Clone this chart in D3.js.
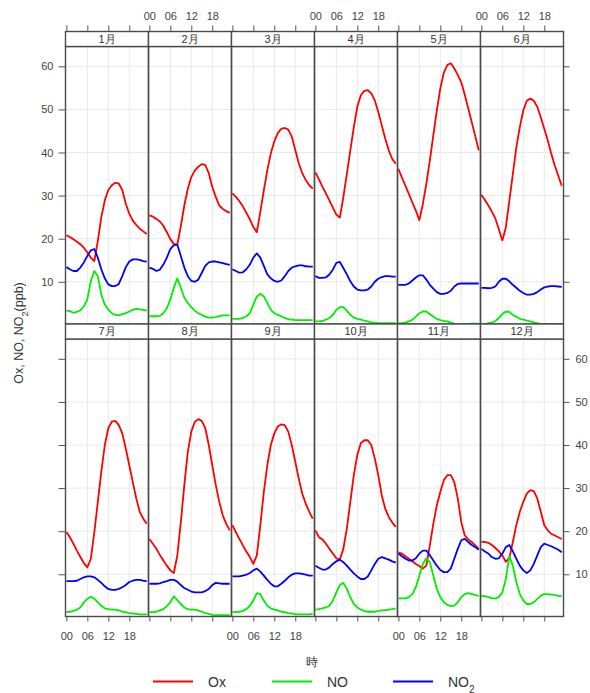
<!DOCTYPE html>
<html lang="ja">
<head>
<meta charset="UTF-8">
<title>Ox, NO, NO2 月別時刻変化</title>
<script src="https://d3js.org/d3.v7.min.js"></script>
<style>
    body { margin: 0; background: #fff; }
    text { font-family: "Liberation Sans", Arial, sans-serif; fill: #333; }
    .axis path { display: none; }
    .axis line { stroke: #555; }
    .axis text { font-size: 11px; fill: #444; }
    .grid line { stroke: #e9e9e9; stroke-width: 1; }
</style>
</head>
<body>
<svg width="590" height="693"></svg>
<script>
const months = ["1月", "2月", "3月", "4月", "5月", "6月", "7月", "8月", "9月", "10月", "11月", "12月"];
const hours = d3.range(24);
const hourTicks = [0, 6, 12, 18];
const hourLabels = ["00", "06", "12", "18"];
const yTicks = [10, 20, 30, 40, 50, 60];

// Ox (ppb), one row per month, hours 0-23
const ox = [
    [20.8,20.4,19.9,19.3,18.7,17.9,16.8,15.6,14.8,19.5,25,28.9,31.3,32.4,33,32.8,31.3,28.1,25.8,24.2,23.2,22.3,21.7,21.1],
    [25.4,25.1,24.6,24,23,21.5,19.9,18.8,18.6,22.9,27.7,31.6,34.3,35.8,36.7,37.3,37.1,35.2,32,29.7,27.7,26.9,26.4,26],
    [30.5,29.7,28.7,27.5,26,24.5,22.7,21.5,26.2,31.2,35.9,39.8,42.6,44.5,45.5,45.7,45.3,43.7,40.6,37.5,35.2,33.6,32.4,31.6],
    [35.4,33.8,32.1,30.5,28.9,27.2,25.6,24.9,29.6,35,40.5,45.9,50.6,53.3,54.3,54.5,53.7,52.1,49.4,46.3,43.2,40.5,38.5,37.4],
    [36.2,34.2,32.3,30.4,28.4,26.5,24.3,28,32.7,38.1,44,49.8,54.9,58.5,60.3,60.7,59.5,58,56.3,53.4,50.2,47,43.8,40.5],
    [30.2,29,27.7,26.3,24.7,22.2,19.6,22.6,28.8,35,41.2,45.9,49.8,52,52.5,52,50.6,48.2,45.5,42.8,39.7,37,34.6,32.3],
    [19.8,18.6,17.1,15.5,14,12.6,11.6,13.6,19.8,26.8,33.8,40,43.9,45.4,45.6,44.6,42.7,39.2,35.3,31.4,27.6,24.5,22.9,21.7],
    [18.2,17.1,15.9,14.5,13.2,12,10.9,10.3,14.4,22.1,30.7,38.4,43.1,45.4,46,45.6,43.9,40,35.3,30.7,26.8,23.7,21.7,20.2],
    [21.4,19.8,18.2,16.7,15.3,14,12.4,14.4,21.4,29.1,35.3,40,42.7,44.3,44.8,44.6,43.1,40,36.1,32.2,28.7,26.4,24.5,22.9],
    [20.2,18.6,18.1,17.1,15.9,14.8,13.7,13.4,15.9,20.6,26.8,33,37.7,40.4,41.1,41.1,40,36.9,33,28.3,25.2,23.3,22,21],
    [15.1,14.8,14.2,13.6,13,12.4,11.9,11.3,12,16.7,21.7,26,29.1,31.8,33,33,31.4,27.6,22.1,19,18.1,17.5,16.7,15.9],
    [17.5,17.5,17.3,16.8,16.1,15.3,14.4,12.9,13.8,17.5,21.4,24.5,26.8,28.7,29.5,29.3,27.6,24.5,21.4,20.2,19.4,19,18.6,18.2]
];

// NO (ppb)
const no = [
    [3.3,3.2,2.8,3,3.4,4.3,5.9,10.2,12.5,11.3,7,4.7,3.5,2.7,2.3,2.2,2.5,2.7,3.1,3.5,3.7,3.6,3.5,3.3],
    [2,2,2,2.1,2.7,3.9,5.9,8.6,10.8,8.6,6.3,5.1,4.1,3.3,2.7,2.3,1.9,1.7,1.7,1.8,2,2.2,2.2,2.2],
    [1.4,1.4,1.4,1.6,2,2.7,4.7,6.6,7.2,6.6,5.1,3.5,2.7,2.3,2,1.6,1.3,1.2,1.1,1.1,1.1,1.1,1.1,1.1],
    [0.8,0.8,0.9,1.2,1.6,2.3,3.5,4.1,4.1,3.3,2.3,1.7,1.4,1.2,1,0.8,0.6,0.5,0.4,0.4,0.4,0.4,0.4,0.4],
    [0.4,0.4,0.5,0.8,1.2,1.9,2.7,3.1,3.1,2.5,1.9,1.4,1.1,0.9,0.8,0.5,0.3,0.2,0.1,0.1,0.2,0.3,0.3,0.3],
    [0.2,0.2,0.4,0.5,0.9,1.6,2.5,3.1,3,2.3,1.9,1.4,1.2,1,0.8,0.6,0.4,0.2,0.2,0.2,0.2,0.2,0.2,0.2],
    [1.2,1.3,1.5,1.8,2.3,3.5,4.3,4.8,4.3,3.5,2.7,2.1,1.9,1.8,1.8,1.6,1.3,1.2,1,0.9,0.8,0.7,0.7,0.7],
    [1.2,1.2,1.3,1.6,1.9,2.6,3.5,4.9,4,3.1,2.3,1.9,1.8,1.8,1.6,1.3,1,0.8,0.6,0.5,0.5,0.5,0.5,0.5],
    [1.2,1.2,1.3,1.5,1.9,2.7,3.9,5.6,5.4,3.9,2.7,2.1,1.8,1.6,1.3,1.2,1,0.9,0.7,0.7,0.7,0.7,0.7,0.8],
    [1.8,1.9,2.1,2.3,2.7,3.9,5.8,7.5,8,6.6,4.7,3.1,2.3,1.8,1.5,1.3,1.3,1.3,1.5,1.6,1.7,1.8,1.9,2.1],
    [4.4,4.4,4.4,4.7,5.4,7,9.7,12.4,13.7,12.8,9.7,6.6,4.7,3.5,2.9,2.6,2.7,3.5,4.7,5.4,5.6,5.4,5.2,4.9],
    [5,4.9,4.7,4.4,4.4,4.7,5.8,8.9,14.2,12,8.2,5.4,3.9,3.1,3.1,3.5,4.3,5,5.4,5.4,5.3,5.2,5,4.9]
];

// NO2 (ppb)
const no2 = [
    [13.4,12.9,12.5,12.5,13.3,14.5,16,17.3,17.6,15.6,12.9,10.8,9.4,9,9,9.5,11.3,13.4,14.7,15.2,15.2,15.1,14.8,14.7],
    [13.3,13,12.5,12.8,14,15.6,17.6,18.5,18.6,16,13.3,11.3,10.2,10,10.5,12.1,13.7,14.5,14.7,14.7,14.5,14.3,14.1,13.9],
    [12.9,12.5,12.1,12.2,12.9,14,15.6,16.6,15.6,13.7,11.7,10.8,10.2,10,10.3,11.3,12.5,13.3,13.6,13.8,13.8,13.6,13.5,13.5],
    [11.3,10.9,10.9,11,11.7,12.8,14.4,14.6,13.2,11.7,10.1,8.9,8.2,8,8,8.2,8.9,10,10.7,11.1,11.3,11.3,11.2,11.2],
    [9.3,9.3,9.3,9.6,10.3,11,11.5,11.5,10.5,9.3,8.4,7.6,7.2,7.2,7.4,7.9,8.9,9.5,9.6,9.6,9.6,9.6,9.6,9.6],
    [8.6,8.6,8.5,8.6,8.9,10,10.7,10.7,10.1,9.3,8.6,7.9,7.4,7,7,7.2,7.6,8.2,8.7,8.9,9,9,8.9,8.8],
    [8.4,8.4,8.4,8.5,8.9,9.3,9.5,9.5,9.3,8.7,8,7.2,6.6,6.4,6.4,6.6,7,7.5,8.2,8.5,8.7,8.7,8.5,8.4],
    [7.8,7.8,7.8,7.9,8.2,8.4,8.7,8.7,8.3,7.5,6.8,6.4,6,5.8,5.8,5.8,6.1,6.6,7.5,8,7.9,7.8,7.8,7.8],
    [9.5,9.5,9.5,9.7,9.9,10.3,10.9,11.3,10.6,9.7,8.7,7.8,7.2,7.2,7.8,8.5,9.3,9.9,10.2,10.2,10.1,9.9,9.7,9.7],
    [12,11.5,11.1,11.1,11.6,12.4,13,13.4,12.8,12,11.1,10.2,9.5,8.9,8.9,9.5,10.9,12.4,13.6,14,13.7,13.4,13,12.7],
    [14.8,14.2,13.6,13.2,13.2,13.7,14.8,15.5,15.5,14.4,13.2,12,11,10.5,10.5,11.3,13.6,15.9,17.9,18.2,17.5,16.8,16.3,15.7],
    [15.9,15.3,14.8,14,13.6,13.7,14.8,16.3,16.8,15.3,13.6,12,10.9,10.3,10.9,12.4,14.4,16.3,17.1,16.8,16.5,16.1,15.7,15.1]
];

const series = [
    { name: "Ox", sub: "", values: ox, color: "#ff0000" },
    { name: "NO", sub: "", values: no, color: "#00ee00" },
    { name: "NO", sub: "2", values: no2, color: "#0000ff" }
];

const svg = d3.select("svg");

const marginLeft = 65.5, marginTop = 31.5, pw = 83, ph = 277.5, stripH = 15, ncol = 6;

const x = d3.scaleLinear().domain([-0.25, 23.5]).range([0, pw]);
const y = d3.scaleLinear().domain([0.2, 64.6]).range([ph, 0]);

const line = d3.line()
    .x((d, i) => x(hours[i]))
    .y(d => y(d));

months.forEach((m, i) => {
    const col = i % ncol, row = Math.floor(i / ncol);
    const px = marginLeft + col * pw;
    const py = marginTop + row * (stripH + ph) + stripH;

    const g = svg.append("g").attr("transform", `translate(${px},${py})`);

    g.append("clipPath").attr("id", "clip" + i)
        .append("rect").attr("width", pw).attr("height", ph);

    // grid
    const grid = g.append("g").attr("class", "grid");
    grid.selectAll(".gy").data(yTicks).enter().append("line")
        .attr("x1", 0).attr("x2", pw)
        .attr("y1", d => y(d)).attr("y2", d => y(d));
    grid.selectAll(".gx").data(hourTicks.slice(1)).enter().append("line")
        .attr("y1", 0).attr("y2", ph)
        .attr("x1", d => x(d)).attr("x2", d => x(d));

    series.forEach(s => {
        g.append("path")
            .datum(s.values[i])
            .attr("clip-path", `url(#clip${i})`)
            .attr("fill", "none")
            .attr("stroke", s.color)
            .attr("stroke-width", 1.8)
            .attr("stroke-linejoin", "round")
            .attr("d", line);
    });

    g.append("rect")
        .attr("width", pw).attr("height", ph)
        .attr("fill", "none").attr("stroke", "#4a4a4a").attr("stroke-width", 1.4);

    // strip
    g.append("rect")
        .attr("y", -stripH).attr("width", pw).attr("height", stripH)
        .attr("fill", "#fff").attr("stroke", "#4a4a4a").attr("stroke-width", 1.4);
    g.append("text")
        .attr("x", pw / 2).attr("y", -stripH / 2).attr("dy", "0.36em")
        .attr("text-anchor", "middle")
        .style("font-size", "11px")
        .text(m);

    // axes, labels alternate like lattice
    if (row === 0) {
        g.append("g").attr("class", "axis")
            .attr("transform", `translate(0,${-stripH})`)
            .call(d3.axisTop(x).tickValues(hourTicks).tickSize(6).tickPadding(6)
                .tickFormat((d, k) => col % 2 === 1 ? hourLabels[k] : ""));
    } else {
        g.append("g").attr("class", "axis")
            .attr("transform", `translate(0,${ph})`)
            .call(d3.axisBottom(x).tickValues(hourTicks).tickSize(5).tickPadding(11)
                .tickFormat((d, k) => col % 2 === 0 ? hourLabels[k] : ""));
    }
    if (col === 0) {
        g.append("g").attr("class", "axis")
            .call(d3.axisLeft(y).tickValues(yTicks).tickSize(7).tickPadding(5)
                .tickFormat(d => row === 0 ? d : ""));
    }
    if (col === ncol - 1) {
        g.append("g").attr("class", "axis")
            .attr("transform", `translate(${pw},0)`)
            .call(d3.axisRight(y).tickValues(yTicks).tickSize(6).tickPadding(6)
                .tickFormat(d => row === 1 ? d : ""));
    }
});

// y title
const yt = svg.append("text")
    .attr("transform", "translate(23,333) rotate(-90)")
    .attr("text-anchor", "middle")
    .style("font-size", "12.5px");
yt.append("tspan").text("Ox, NO, NO");
yt.append("tspan").attr("baseline-shift", "sub").style("font-size", "9px").text("2");
yt.append("tspan").text("(ppb)");

// x title
svg.append("text")
    .attr("x", 312).attr("y", 666)
    .attr("text-anchor", "middle")
    .style("font-size", "12px")
    .text("時");

// legend
const legendX = [153, 272, 393];
series.forEach((s, k) => {
    const lg = svg.append("g").attr("transform", `translate(${legendX[k]},681.5)`);
    lg.append("line").attr("x1", 0).attr("x2", 40)
        .attr("stroke", s.color).attr("stroke-width", 2);
    const t = lg.append("text").attr("x", 55).attr("dy", "0.36em")
        .style("font-size", "14px");
    t.append("tspan").text(s.name);
    if (s.sub) t.append("tspan").attr("baseline-shift", "sub").style("font-size", "10px").text(s.sub);
});
</script>
</body>
</html>
